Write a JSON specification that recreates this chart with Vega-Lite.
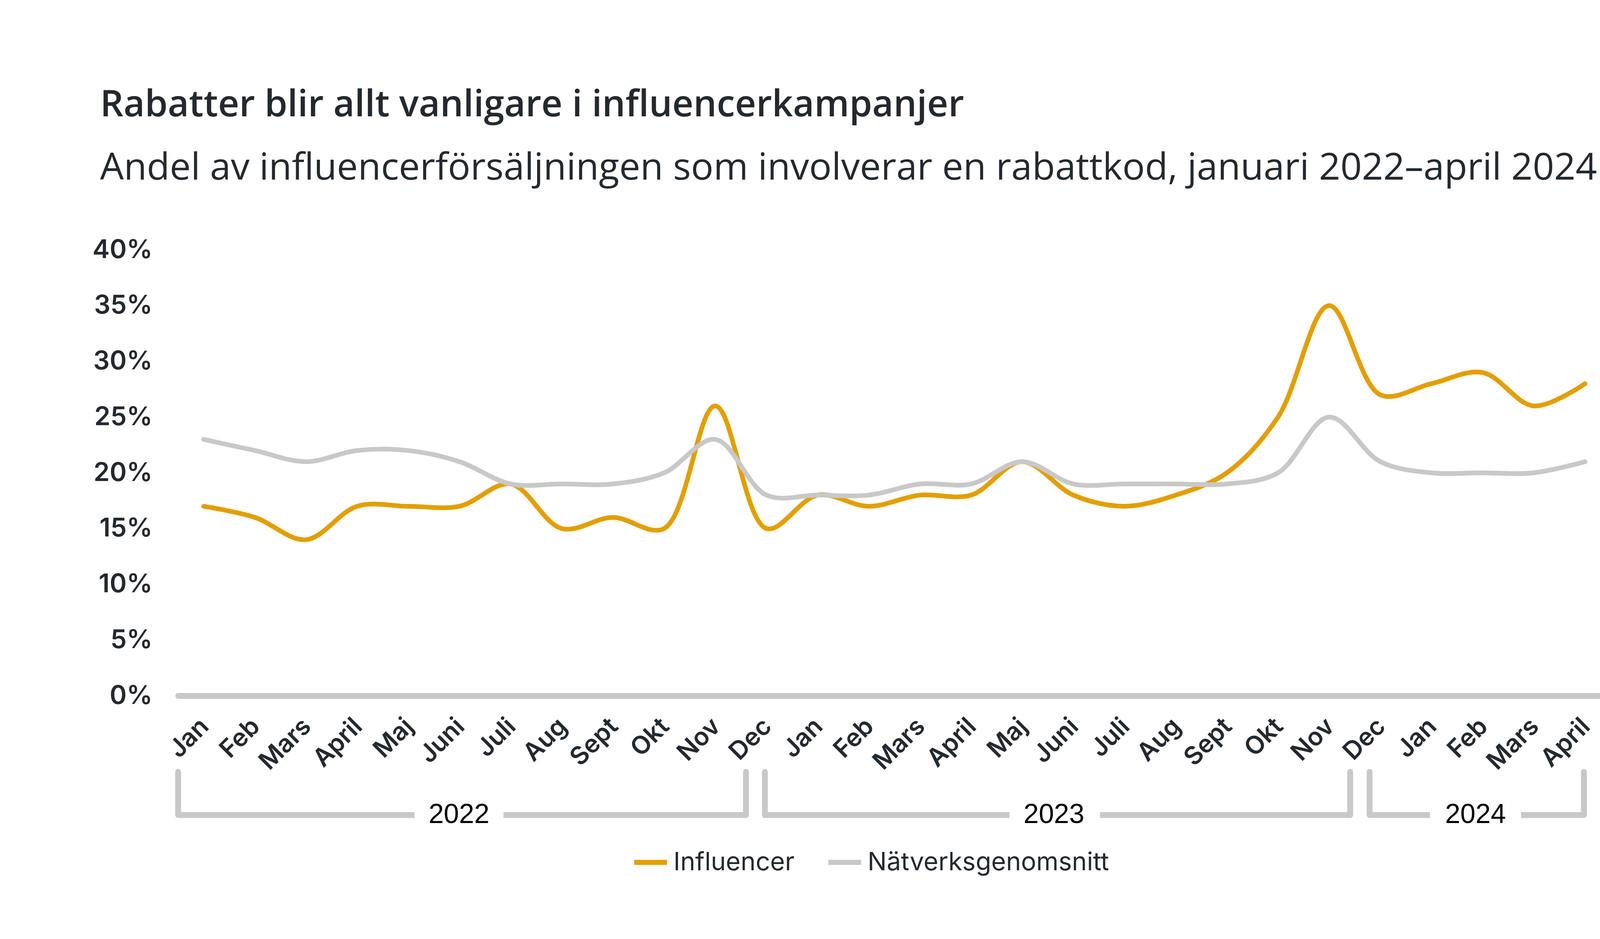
{
  "$schema": "https://vega.github.io/schema/vega-lite/v6.json",
  "width": 3667,
  "height": 1142,
  "padding": {"left": 236, "top": 223, "right": 170, "bottom": 150},
  "background": "white",
  "title": {
    "text": "Rabatter blir allt vanligare i influencerkampanjer",
    "subtitle": "Andel av influencerförsäljningen som involverar en rabattkod, januari 2022–april 2024",
    "anchor": "start",
    "frame": "bounds",
    "font": "Open Sans",
    "fontSize": 94,
    "fontWeight": 600,
    "color": "#24292e",
    "subtitleFont": "Open Sans",
    "subtitleFontSize": 96,
    "subtitleFontWeight": 400,
    "subtitleColor": "#24292e",
    "subtitlePadding": 66,
    "offset": 127,
    "dx": 20
  },
  "datasets": {
    "series": [
      {"idx": 0, "month": "Jan", "year": 2022, "series": "Influencer", "value": 0.17},
      {"idx": 1, "month": "Feb", "year": 2022, "series": "Influencer", "value": 0.16},
      {"idx": 2, "month": "Mars", "year": 2022, "series": "Influencer", "value": 0.14},
      {"idx": 3, "month": "April", "year": 2022, "series": "Influencer", "value": 0.17},
      {"idx": 4, "month": "Maj", "year": 2022, "series": "Influencer", "value": 0.17},
      {"idx": 5, "month": "Juni", "year": 2022, "series": "Influencer", "value": 0.17},
      {"idx": 6, "month": "Juli", "year": 2022, "series": "Influencer", "value": 0.19},
      {"idx": 7, "month": "Aug", "year": 2022, "series": "Influencer", "value": 0.15},
      {"idx": 8, "month": "Sept", "year": 2022, "series": "Influencer", "value": 0.16},
      {"idx": 9, "month": "Okt", "year": 2022, "series": "Influencer", "value": 0.15},
      {"idx": 10, "month": "Nov", "year": 2022, "series": "Influencer", "value": 0.26},
      {"idx": 11, "month": "Dec", "year": 2022, "series": "Influencer", "value": 0.15},
      {"idx": 12, "month": "Jan", "year": 2023, "series": "Influencer", "value": 0.18},
      {"idx": 13, "month": "Feb", "year": 2023, "series": "Influencer", "value": 0.17},
      {"idx": 14, "month": "Mars", "year": 2023, "series": "Influencer", "value": 0.18},
      {"idx": 15, "month": "April", "year": 2023, "series": "Influencer", "value": 0.18},
      {"idx": 16, "month": "Maj", "year": 2023, "series": "Influencer", "value": 0.21},
      {"idx": 17, "month": "Juni", "year": 2023, "series": "Influencer", "value": 0.18},
      {"idx": 18, "month": "Juli", "year": 2023, "series": "Influencer", "value": 0.17},
      {"idx": 19, "month": "Aug", "year": 2023, "series": "Influencer", "value": 0.18},
      {"idx": 20, "month": "Sept", "year": 2023, "series": "Influencer", "value": 0.20},
      {"idx": 21, "month": "Okt", "year": 2023, "series": "Influencer", "value": 0.25},
      {"idx": 22, "month": "Nov", "year": 2023, "series": "Influencer", "value": 0.35},
      {"idx": 23, "month": "Dec", "year": 2023, "series": "Influencer", "value": 0.27},
      {"idx": 24, "month": "Jan", "year": 2024, "series": "Influencer", "value": 0.28},
      {"idx": 25, "month": "Feb", "year": 2024, "series": "Influencer", "value": 0.29},
      {"idx": 26, "month": "Mars", "year": 2024, "series": "Influencer", "value": 0.26},
      {"idx": 27, "month": "April", "year": 2024, "series": "Influencer", "value": 0.28},
      {"idx": 0, "month": "Jan", "year": 2022, "series": "Nätverksgenomsnitt", "value": 0.23},
      {"idx": 1, "month": "Feb", "year": 2022, "series": "Nätverksgenomsnitt", "value": 0.22},
      {"idx": 2, "month": "Mars", "year": 2022, "series": "Nätverksgenomsnitt", "value": 0.21},
      {"idx": 3, "month": "April", "year": 2022, "series": "Nätverksgenomsnitt", "value": 0.22},
      {"idx": 4, "month": "Maj", "year": 2022, "series": "Nätverksgenomsnitt", "value": 0.22},
      {"idx": 5, "month": "Juni", "year": 2022, "series": "Nätverksgenomsnitt", "value": 0.21},
      {"idx": 6, "month": "Juli", "year": 2022, "series": "Nätverksgenomsnitt", "value": 0.19},
      {"idx": 7, "month": "Aug", "year": 2022, "series": "Nätverksgenomsnitt", "value": 0.19},
      {"idx": 8, "month": "Sept", "year": 2022, "series": "Nätverksgenomsnitt", "value": 0.19},
      {"idx": 9, "month": "Okt", "year": 2022, "series": "Nätverksgenomsnitt", "value": 0.20},
      {"idx": 10, "month": "Nov", "year": 2022, "series": "Nätverksgenomsnitt", "value": 0.23},
      {"idx": 11, "month": "Dec", "year": 2022, "series": "Nätverksgenomsnitt", "value": 0.18},
      {"idx": 12, "month": "Jan", "year": 2023, "series": "Nätverksgenomsnitt", "value": 0.18},
      {"idx": 13, "month": "Feb", "year": 2023, "series": "Nätverksgenomsnitt", "value": 0.18},
      {"idx": 14, "month": "Mars", "year": 2023, "series": "Nätverksgenomsnitt", "value": 0.19},
      {"idx": 15, "month": "April", "year": 2023, "series": "Nätverksgenomsnitt", "value": 0.19},
      {"idx": 16, "month": "Maj", "year": 2023, "series": "Nätverksgenomsnitt", "value": 0.21},
      {"idx": 17, "month": "Juni", "year": 2023, "series": "Nätverksgenomsnitt", "value": 0.19},
      {"idx": 18, "month": "Juli", "year": 2023, "series": "Nätverksgenomsnitt", "value": 0.19},
      {"idx": 19, "month": "Aug", "year": 2023, "series": "Nätverksgenomsnitt", "value": 0.19},
      {"idx": 20, "month": "Sept", "year": 2023, "series": "Nätverksgenomsnitt", "value": 0.19},
      {"idx": 21, "month": "Okt", "year": 2023, "series": "Nätverksgenomsnitt", "value": 0.20},
      {"idx": 22, "month": "Nov", "year": 2023, "series": "Nätverksgenomsnitt", "value": 0.25},
      {"idx": 23, "month": "Dec", "year": 2023, "series": "Nätverksgenomsnitt", "value": 0.21},
      {"idx": 24, "month": "Jan", "year": 2024, "series": "Nätverksgenomsnitt", "value": 0.20},
      {"idx": 25, "month": "Feb", "year": 2024, "series": "Nätverksgenomsnitt", "value": 0.20},
      {"idx": 26, "month": "Mars", "year": 2024, "series": "Nätverksgenomsnitt", "value": 0.20},
      {"idx": 27, "month": "April", "year": 2024, "series": "Nätverksgenomsnitt", "value": 0.21}
    ],
    "brackets": [
      {"year": "2022", "start": -0.5, "end": 10.6, "gapL": 4.12, "gapR": 5.86, "mid": 4.99},
      {"year": "2023", "start": 10.97, "end": 22.41, "gapL": 15.75, "gapR": 17.52, "mid": 16.62},
      {"year": "2024", "start": 22.79, "end": 26.98, "gapL": 23.97, "gapR": 25.75, "mid": 24.86}
    ]
  },
  "layer": [
    {
      "data": {"name": "series"},
      "mark": {"type": "line", "interpolate": "catmull-rom", "strokeWidth": 12, "strokeCap": "round", "strokeJoin": "round"},
      "encoding": {
        "x": {
          "field": "idx", "type": "quantitative", "title": null,
          "scale": {"domain": [-0.5, 27.5], "nice": false, "zero": false},
          "axis": {
            "title": null,
            "values": [0,1,2,3,4,5,6,7,8,9,10,11,12,13,14,15,16,17,18,19,20,21,22,23,24,25,26,27],
            "labelExpr": "['Jan','Feb','Mars','April','Maj','Juni','Juli','Aug','Sept','Okt','Nov','Dec'][datum.value % 12]",
            "labelAngle": -45,
            "labelFont": "Inter",
            "labelFontSize": 64,
            "labelFontWeight": 600,
            "labelColor": "#24292e",
            "labelPadding": 46,
            "labelOffset": -20,
            "labelFlush": false,
            "labelOverlap": false,
            "labelBound": false,
            "ticks": false,
            "grid": false,
            "domainColor": "#c8c8c8",
            "domainWidth": 15,
            "domainCap": "round"
          }
        },
        "y": {
          "field": "value", "type": "quantitative", "title": null,
          "scale": {"domain": [0, 0.4], "nice": false},
          "axis": {
            "title": null,
            "values": [0, 0.05, 0.1, 0.15, 0.2, 0.25, 0.3, 0.35, 0.4],
            "format": ".0%",
            "labelFont": "Inter",
            "labelFontSize": 66,
            "labelFontWeight": 600,
            "labelColor": "#24292e",
            "labelPadding": 66,
            "ticks": false,
            "domain": false,
            "grid": false
          }
        },
        "color": {
          "field": "series", "type": "nominal",
          "scale": {"domain": ["Influencer", "Nätverksgenomsnitt"], "range": ["#e29f00", "#c8c8c8"]},
          "legend": {
            "title": null,
            "orient": "none",
            "legendX": 1161,
            "legendY": 1520,
            "direction": "horizontal",
            "symbolType": "stroke",
            "symbolSize": 7056,
            "symbolStrokeWidth": 13,
            "labelFont": "Inter",
            "labelFontSize": 65,
            "labelColor": "#24292e",
            "labelLimit": 2000,
            "columnPadding": 60,
            "labelOffset": 10
          }
        }
      }
    },
    {
      "data": {"name": "brackets"},
      "mark": {"type": "rule", "strokeWidth": 15, "color": "#c8c8c8", "strokeCap": "round"},
      "encoding": {
        "x": {"field": "start", "type": "quantitative", "title": null},
        "y": {"datum": -0.0683},
        "y2": {"datum": -0.107}
      }
    },
    {
      "data": {"name": "brackets"},
      "mark": {"type": "rule", "strokeWidth": 15, "color": "#c8c8c8", "strokeCap": "round"},
      "encoding": {
        "x": {"field": "end", "type": "quantitative", "title": null},
        "y": {"datum": -0.0683},
        "y2": {"datum": -0.107}
      }
    },
    {
      "data": {"name": "brackets"},
      "mark": {"type": "rule", "strokeWidth": 15, "color": "#c8c8c8", "strokeCap": "butt"},
      "encoding": {
        "x": {"field": "start", "type": "quantitative", "title": null},
        "x2": {"field": "gapL"},
        "y": {"datum": -0.107}
      }
    },
    {
      "data": {"name": "brackets"},
      "mark": {"type": "rule", "strokeWidth": 15, "color": "#c8c8c8", "strokeCap": "butt"},
      "encoding": {
        "x": {"field": "gapR", "type": "quantitative", "title": null},
        "x2": {"field": "end"},
        "y": {"datum": -0.107}
      }
    },
    {
      "data": {"name": "brackets"},
      "mark": {"type": "text", "font": "Liberation Sans", "fontSize": 70, "color": "#000000", "align": "center", "baseline": "middle"},
      "encoding": {
        "x": {"field": "mid", "type": "quantitative", "title": null},
        "y": {"datum": -0.107},
        "text": {"field": "year"}
      }
    }
  ],
  "config": {
    "view": {"stroke": null}
  }
}
